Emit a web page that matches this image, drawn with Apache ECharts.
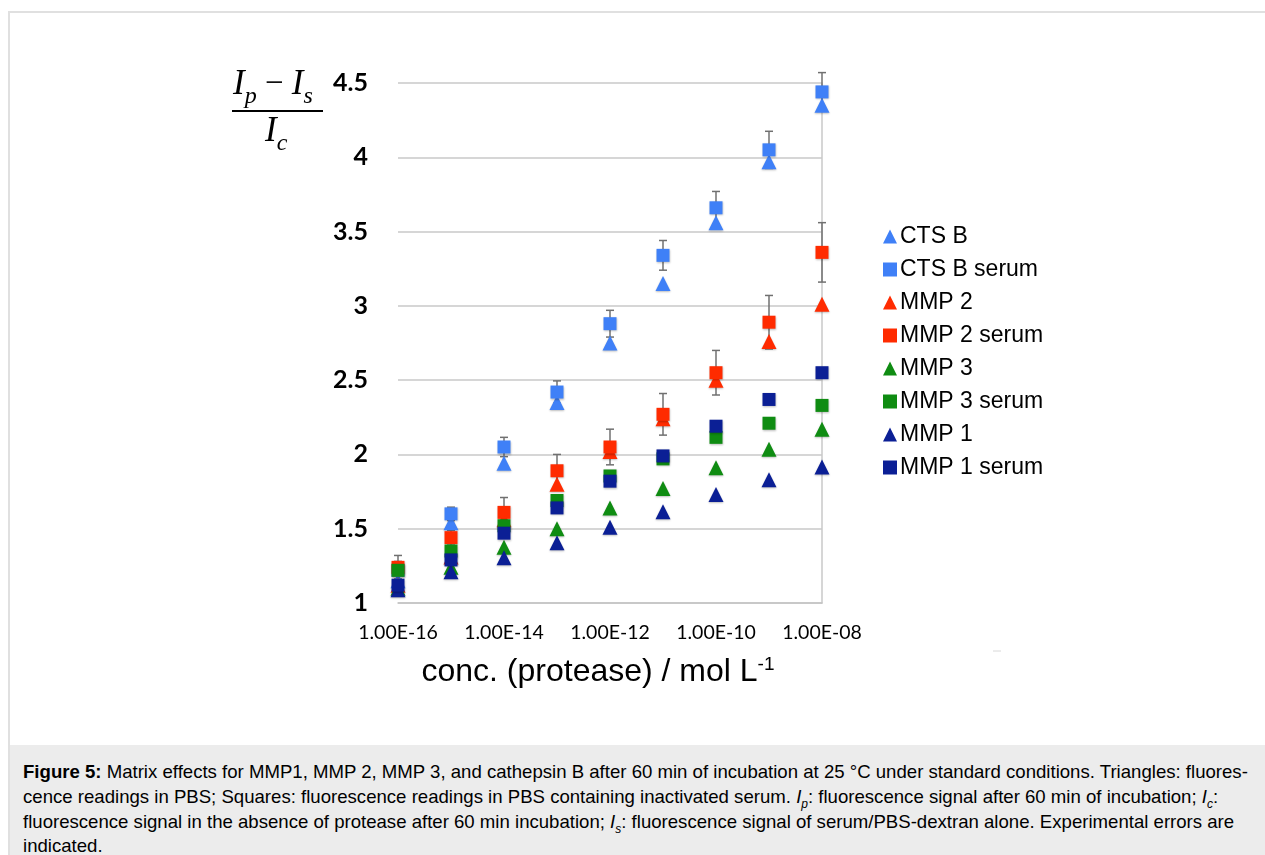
<!DOCTYPE html>
<html>
<head>
<meta charset="utf-8">
<script src="https://cdn.jsdelivr.net/npm/echarts@6/dist/echarts.min.js"></script>
<style>
  body { margin: 0; background: #fff; }
  .page { position: relative; width: 1265px; height: 855px; overflow: hidden; }
  .frame { position: absolute; left: 8px; top: 11px; right: -2px; bottom: -2px; border-left: 2px solid #e0e0e0; border-top: 2px solid #e0e0e0; }
  #chart { position: absolute; left: 0; top: 0; width: 1265px; height: 745px; }
  .caption {
    position: absolute; left: 10px; top: 745px; width: 1255px; height: 110px;
    background: #ececec; box-sizing: border-box; padding: 15px 0 0 13px;
    font-family: "Liberation Sans", Arial, sans-serif; font-size: 18.6px; line-height: 24.8px; color: #000;
    white-space: nowrap;
  }
  .caption sub { font-size: 12px; line-height: 0; }
</style>
</head>
<body>
<div class="page">
  <div class="frame"></div>
  <div id="chart"></div>
  <div class="caption">
    <b>Figure 5:</b> Matrix effects for MMP1, MMP 2, MMP 3, and cathepsin B after 60 min of incubation at 25 °C under standard conditions. Triangles: fluores-<br>
    cence readings in PBS; Squares: fluorescence readings in PBS containing inactivated serum. <i>I<sub>p</sub></i>: fluorescence signal after 60 min of incubation; <i>I<sub>c</sub></i>:<br>
    fluorescence signal in the absence of protease after 60 min incubation; <i>I<sub>s</sub></i>: fluorescence signal of serum/PBS-dextran alone. Experimental errors are<br>
    indicated.
  </div>
</div>
<script>
// protease concentration, mol/L
const conc = [1e-16, 1e-15, 1e-14, 1e-13, 1e-12, 1e-11, 1e-10, 1e-9, 1e-8];
const xTicks = ['1.00E-16', '1.00E-14', '1.00E-12', '1.00E-10', '1.00E-08'];

// (Ip - Is) / Ic
const ctsB         = [1.15, 1.54, 1.94, 2.35, 2.75, 3.15, 3.56, 3.97, 4.35];
const ctsBSerum    = [1.22, 1.60, 2.05, 2.42, 2.88, 3.34, 3.66, 4.05, 4.44];
const ctsBSerumErr = [0.06, 0.045, 0.065, 0.075, 0.09, 0.10, 0.11, 0.125, 0.13];
const mmp2         = [1.12, 1.31, 1.56, 1.80, 2.02, 2.24, 2.50, 2.76, 3.01];
const mmp2Serum    = [1.24, 1.44, 1.61, 1.89, 2.05, 2.27, 2.55, 2.89, 3.36];
const mmp2SerumErr = [0.08, 0.05, 0.10, 0.11, 0.12, 0.14, 0.15, 0.18, 0.20];
const mmp3         = [1.10, 1.24, 1.375, 1.50, 1.64, 1.77, 1.91, 2.035, 2.17];
const mmp3Serum    = [1.22, 1.35, 1.52, 1.69, 1.855, 1.97, 2.115, 2.21, 2.33];
const mmp1         = [1.09, 1.21, 1.305, 1.405, 1.51, 1.615, 1.73, 1.83, 1.915];
const mmp1Serum    = [1.12, 1.29, 1.47, 1.64, 1.82, 1.99, 2.19, 2.37, 2.55];

const lightBlue = '#3f80f7';
const red = '#ff2b00';
const green = '#0f8c12';
const darkBlue = '#0b1f95';

const pairs = (ys) => conc.map((c, i) => [c, ys[i]]);
const bars = (ys, err) => conc.map((c, i) => [c, ys[i] - err[i], ys[i] + err[i]]);

function fmtExp(v) {
  const e = Math.round(Math.log10(v));
  const s = Math.abs(e) < 10 ? '0' + Math.abs(e) : '' + Math.abs(e);
  return '1.00E' + (e < 0 ? '-' : '+') + s;
}

function errorBar(params, api) {
  const x = api.value(0);
  const top = api.coord([x, api.value(2)]);
  const bot = api.coord([x, api.value(1)]);
  const w = 4;
  const st = { stroke: '#707070', lineWidth: 1.5 };
  return {
    type: 'group',
    children: [
      { type: 'line', shape: { x1: top[0], y1: top[1], x2: bot[0], y2: bot[1] }, style: st },
      { type: 'line', shape: { x1: top[0] - w, y1: top[1], x2: top[0] + w, y2: top[1] }, style: st },
      { type: 'line', shape: { x1: bot[0] - w, y1: bot[1], x2: bot[0] + w, y2: bot[1] }, style: st }
    ]
  };
}

function pts(name, ys, color, shape) {
  return {
    name: name,
    type: 'scatter',
    symbol: shape === 'tri' ? 'triangle' : 'rect',
    symbolSize: shape === 'tri' ? 15 : 13,
    itemStyle: { color: color, opacity: 1, shadowColor: 'rgba(0,0,0,0.25)', shadowBlur: 2, shadowOffsetY: 1 },
    z: 3,
    data: pairs(ys)
  };
}

const fracRich = {
  i: { fontFamily: 'Liberation Serif', fontStyle: 'italic', fontSize: 35, fill: '#000' },
  m: { fontFamily: 'Liberation Serif', fontSize: 33, fill: '#000' },
  sub: { fontFamily: 'Liberation Serif', fontStyle: 'italic', fontSize: 24, fill: '#000', verticalAlign: 'bottom', padding: [0, 0, -7, 0] }
};

const chart = echarts.init(document.getElementById('chart'));
chart.setOption({
  animation: false,
  grid: { left: 398, right: 443, top: 83, bottom: 142 },
  legend: {
    orient: 'vertical',
    left: 878,
    top: 220,
    itemWidth: 14,
    itemHeight: 14,
    itemGap: 10,
    textStyle: { fontFamily: 'Liberation Sans', fontSize: 23, color: '#000', padding: [0, 0, 0, -2] },
    data: ['CTS B', 'CTS B serum', 'MMP 2', 'MMP 2 serum', 'MMP 3', 'MMP 3 serum', 'MMP 1', 'MMP 1 serum']
  },
  xAxis: {
    type: 'log',
    logBase: 100,
    min: 1e-16,
    max: 1e-8,
    axisLine: { lineStyle: { color: '#c4c4c4', width: 1.5 } },
    axisTick: { show: false },
    splitLine: { show: false },
    axisLabel: {
      fontFamily: 'Lato', fontSize: 19.5, color: '#000', margin: 20,
      formatter: (v) => { const t = fmtExp(v); return xTicks.indexOf(t) >= 0 ? t : ''; }
    },
    name: 'conc. (protease) / mol L{sup|-1}',
    nameLocation: 'middle',
    nameGap: 52,
    nameTextStyle: {
      fontFamily: 'Liberation Sans', fontSize: 32, color: '#000', padding: [0, 24, 0, 0],
      rich: { sup: { fontFamily: 'Liberation Sans', fontSize: 19, color: '#000', verticalAlign: 'top', padding: [0, 0, 15, 0] } }
    }
  },
  yAxis: [
    {
      type: 'value',
      min: 1,
      max: 4.5,
      interval: 0.5,
      axisLine: { show: false },
      axisTick: { show: false },
      splitLine: { lineStyle: { color: '#c8c8c8', width: 1.5 } },
      axisLabel: { fontFamily: 'Lato', fontWeight: 'bold', fontSize: 25, color: '#000', margin: 30 }
    },
    {
      type: 'value',
      position: 'right',
      min: 1,
      max: 4.5,
      axisLine: { show: true, lineStyle: { color: '#c8c8c8', width: 1.5 } },
      axisTick: { show: false },
      axisLabel: { show: false },
      splitLine: { show: false }
    }
  ],
  graphic: [
    { type: 'text', left: 233, top: 67, style: { text: '{i|I}{sub|p}{m| − }{i|I}{sub|s}', rich: fracRich } },
    { type: 'line', shape: { x1: 232, y1: 111, x2: 323, y2: 111 }, style: { stroke: '#000', lineWidth: 2 } },
    { type: 'text', left: 265, top: 114, style: { text: '{i|I}{sub|c}', rich: fracRich } },
    { type: 'line', shape: { x1: 993, y1: 651, x2: 1001, y2: 651 }, style: { stroke: '#d8d8d8', lineWidth: 1 } }
  ],
  series: [
    { type: 'custom', renderItem: errorBar, encode: { x: 0, y: [1, 2] }, z: 2, data: bars(ctsBSerum, ctsBSerumErr) },
    { type: 'custom', renderItem: errorBar, encode: { x: 0, y: [1, 2] }, z: 2, data: bars(mmp2Serum, mmp2SerumErr) },
    pts('CTS B', ctsB, lightBlue, 'tri'),
    pts('CTS B serum', ctsBSerum, lightBlue, 'sq'),
    pts('MMP 2', mmp2, red, 'tri'),
    pts('MMP 2 serum', mmp2Serum, red, 'sq'),
    pts('MMP 3', mmp3, green, 'tri'),
    pts('MMP 3 serum', mmp3Serum, green, 'sq'),
    pts('MMP 1', mmp1, darkBlue, 'tri'),
    pts('MMP 1 serum', mmp1Serum, darkBlue, 'sq')
  ]
});
</script>
</body>
</html>
